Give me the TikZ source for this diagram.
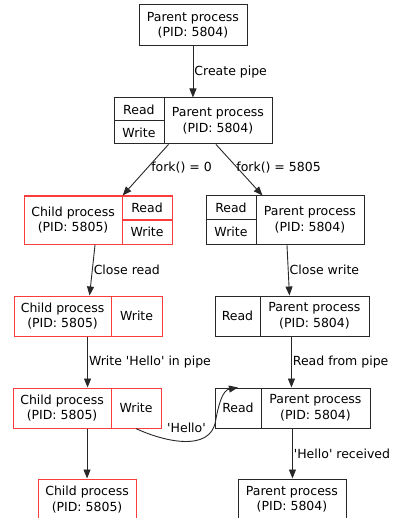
\documentclass[tikz,border=0pt]{standalone}
\usepackage{fontspec}
\setmainfont{DejaVu Sans}
\usepackage{xcolor}
\usepackage{tikz}
\usetikzlibrary{arrows.meta,positioning,calc}
\definecolor{chred}{RGB}{250,60,60}
\definecolor{edgegray}{RGB}{40,40,40}
\newcommand{\sq}{\textquotesingle}
\tikzset{
  cell/.style={draw=edgegray, line width=0.9pt, inner sep=0pt, align=center, anchor=north west},
  redcell/.style={cell, draw=chred, line width=1.1pt},
  edge/.style={draw=edgegray, line width=0.9pt, -{Triangle[length=9pt,width=7pt]}},
  lbl/.style={anchor=west, inner sep=1pt}
}

\begin{document}
\begin{tikzpicture}[x=1pt,y=1pt,font=\fontsize{12.5}{15.5}\selectfont]
\clip (-0.5,0.5) rectangle (393.5,-517.5);
% top parent process
\node[cell, minimum width=108, minimum height=41] (p0) at (138,-4) {Parent process\\(PID: 5804)};
% parent with pipe
\node[cell, minimum width=50, minimum height=23] (p1r) at (113,-97) {Read};
\node[cell, minimum width=50, minimum height=23] (p1w) at (113,-120) {Write};
\node[cell, minimum width=108, minimum height=46] (p1) at (163,-97) {Parent process\\(PID: 5804)};
% after fork: child (left)
\node[redcell, minimum width=98, minimum height=48] (c2) at (23,-195) {Child process\\(PID: 5805)};
\node[redcell, minimum width=50, minimum height=24] (c2r) at (121,-195) {Read};
\node[redcell, minimum width=50, minimum height=24] (c2w) at (121,-219) {Write};
% after fork: parent (right)
\node[cell, minimum width=50, minimum height=24] (p2r) at (205,-195) {Read};
\node[cell, minimum width=50, minimum height=24] (p2w) at (205,-219) {Write};
\node[cell, minimum width=108, minimum height=48] (p2) at (255,-195) {Parent process\\(PID: 5804)};
% closed ends
\node[redcell, minimum width=97, minimum height=40] (c3) at (13,-295) {Child process\\(PID: 5805)};
\node[redcell, minimum width=51, minimum height=40] (c3w) at (110,-295) {Write};
\node[cell, minimum width=45, minimum height=40] (p3r) at (214,-295) {Read};
\node[cell, minimum width=109, minimum height=40] (p3) at (259,-295) {Parent process\\(PID: 5804)};
% writing and reading
\node[redcell, minimum width=98, minimum height=40] (c4) at (12,-387) {Child process\\(PID: 5805)};
\node[redcell, minimum width=50, minimum height=40] (c4w) at (110,-387) {Write};
\node[cell, minimum width=46, minimum height=40] (p4r) at (214,-387) {Read};
\node[cell, minimum width=109, minimum height=40] (p4) at (260,-387) {Parent process\\(PID: 5804)};
% final processes
\node[redcell, minimum width=98, minimum height=41] (c5) at (37,-478) {Child process\\(PID: 5805)};
\node[cell, minimum width=108, minimum height=41] (p5) at (237,-478) {Parent process\\(PID: 5804)};

% edges
\draw[edge] (p0.south) -- (p0.south |- p1.north) node[lbl, midway] {Create pipe};
\draw[edge] ([xshift=5]p1.south west) -- (c2.north east) node[lbl, pos=0.45, xshift=2] {fork() = 0};
\draw[edge] ([xshift=-2]p1.south) -- ([xshift=7]p2.north west) node[lbl, pos=0.45, xshift=-2] {fork() = 5805};
\draw[edge] ([xshift=22]c2.south) -- ([xshift=27]c3.north) node[lbl, midway] {Close read};
\draw[edge] ([xshift=-23]p2.south) -- ([xshift=-25]p3.north) node[lbl, midway] {Close write};
\draw[edge] ([xshift=25]c3.south) -- ([xshift=25]c3.south |- c4.north) node[lbl, midway] {Write \sq Hello\sq{} in pipe};
\draw[edge] ([xshift=-23]p3.south) -- ([xshift=-23]p3.south |- p4.north) node[lbl, midway] {Read from pipe};
\draw[edge] (c4w.south) to[out=-25, in=-100] ($(p4r.south west)+(1,7)$)
  to[out=80, in=190] (p4r.north);
\node (hello) at (186,-427) {\sq Hello\sq};
\draw[edge] ([xshift=25]c4.south) -- ([xshift=25]c4.south |- c5.north);
\draw[edge] ([xshift=-23]p4.south) -- ([xshift=-23]p4.south |- p5.north) node[lbl, midway] {\sq Hello\sq{} received};
\end{tikzpicture}
\end{document}
